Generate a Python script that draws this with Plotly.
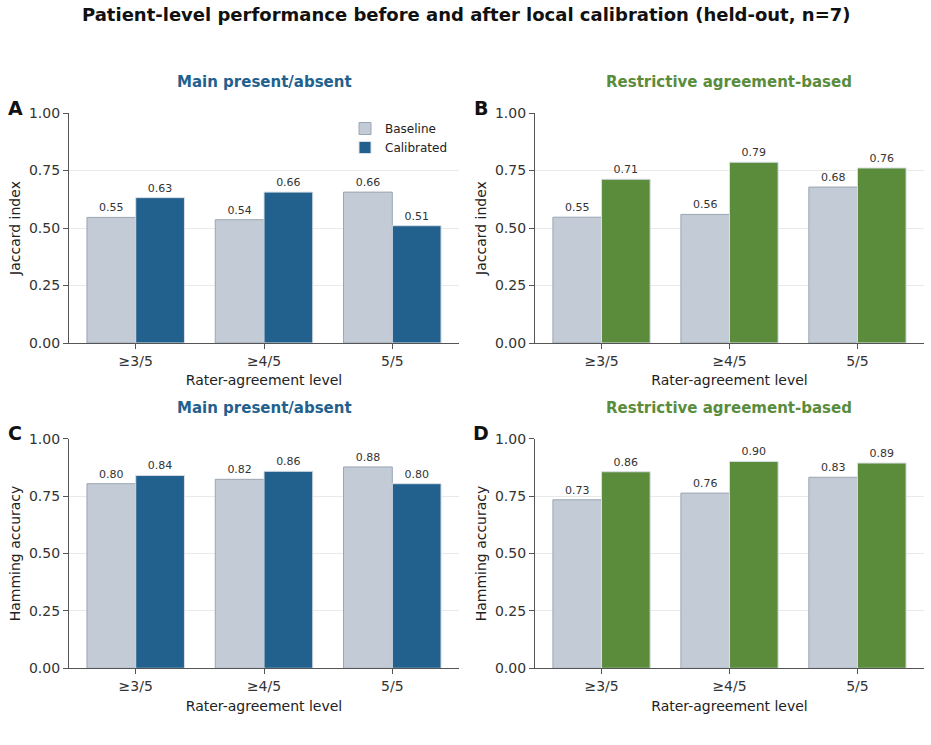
import plotly.graph_objects as go

levels = ["≥3/5", "≥4/5", "5/5"]

jaccard_main_baseline = [0.546, 0.536, 0.656]
jaccard_main_calibrated = [0.632, 0.656, 0.510]
jaccard_restr_baseline = [0.547, 0.559, 0.678]
jaccard_restr_calibrated = [0.712, 0.786, 0.761]
hamming_main_baseline = [0.804, 0.823, 0.877]
hamming_main_calibrated = [0.840, 0.858, 0.804]
hamming_restr_baseline = [0.734, 0.763, 0.832]
hamming_restr_calibrated = [0.856, 0.901, 0.894]

y_ticks = [0.0, 0.25, 0.5, 0.75, 1.0]

BASE_FILL = "#c3ccd6"
BASE_EDGE = "#9aa6b3"
BLUE = "#22618e"
GREEN = "#5a8c3c"
FONT = "DejaVu Sans"

W, H = 931, 745
def px(x): return x / W
def py(y): return 1 - y / H

fig = go.Figure()

panels = [
    ("", jaccard_main_baseline, jaccard_main_calibrated, BLUE, "Jaccard index", (69, 459), (113, 343)),
    ("2", jaccard_restr_baseline, jaccard_restr_calibrated, GREEN, "Jaccard index", (535, 924), (113, 343)),
    ("3", hamming_main_baseline, hamming_main_calibrated, BLUE, "Hamming accuracy", (69, 459), (438.7, 668.3)),
    ("4", hamming_restr_baseline, hamming_restr_calibrated, GREEN, "Hamming accuracy", (535, 924), (438.7, 668.3)),
]

layout_axes = {}
for i, (aid, base, cal, color, ytitle, dx, dy) in enumerate(panels):
    xa = "x" + aid
    ya = "y" + aid
    fig.add_trace(go.Bar(
        x=levels, y=base, name="Baseline", xaxis=xa, yaxis=ya,
        marker=dict(color=BASE_FILL, line=dict(color=BASE_EDGE, width=1)),
        text=[f"{v:.2f}" for v in base], textposition="outside",
        textfont=dict(size=11, color="#333333", family=FONT),
        cliponaxis=False, showlegend=(i == 0), legendgroup="b",
    ))
    fig.add_trace(go.Bar(
        x=levels, y=cal, name="Calibrated", xaxis=xa, yaxis=ya,
        marker=dict(color=color, line=dict(color="#d8dee6", width=1)),
        text=[f"{v:.2f}" for v in cal], textposition="outside",
        textfont=dict(size=11, color="#333333", family=FONT),
        cliponaxis=False, showlegend=(i == 0), legendgroup="c",
    ))
    layout_axes["xaxis" + aid] = dict(
        domain=[px(dx[0]), px(dx[1])], anchor=ya, range=[-0.52, 2.52],
        automargin=False,
        showline=True, linecolor="#555555", linewidth=1.2, ticks="outside",
        ticklen=5, tickcolor="#555555", showgrid=False,
        tickfont=dict(size=14, color="#333333", family=FONT),
        title=dict(text="Rater-agreement level", font=dict(size=14, color="#222222", family=FONT), standoff=7),
    )
    layout_axes["yaxis" + aid] = dict(
        domain=[py(dy[1]), py(dy[0])], anchor=xa, range=[0, 1],
        automargin=False,
        tickvals=y_ticks, tickformat=".2f",
        showline=True, linecolor="#555555", linewidth=1.2, ticks="outside",
        ticklen=5, tickcolor="#555555", showgrid=True, gridcolor="#e9e9e9",
        zeroline=False,
        tickfont=dict(size=14, color="#333333", family=FONT),
        title=dict(text=ytitle, font=dict(size=14, color="#222222", family=FONT), standoff=5),
    )

annotations = [
    dict(text="<b>Patient-level performance before and after local calibration (held-out, n=7)</b>",
         x=0.5, y=py(15), xref="paper", yref="paper", showarrow=False,
         font=dict(size=18, color="#111111", family=FONT), xanchor="center", yanchor="middle"),
    dict(text="<b>Main present/absent</b>", x=px(264), y=py(82), xref="paper", yref="paper",
         showarrow=False, font=dict(size=15, color=BLUE, family=FONT), xanchor="center", yanchor="middle"),
    dict(text="<b>Restrictive agreement-based</b>", x=px(729), y=py(82), xref="paper", yref="paper",
         showarrow=False, font=dict(size=15, color=GREEN, family=FONT), xanchor="center", yanchor="middle"),
    dict(text="<b>Main present/absent</b>", x=px(264), y=py(408), xref="paper", yref="paper",
         showarrow=False, font=dict(size=15, color=BLUE, family=FONT), xanchor="center", yanchor="middle"),
    dict(text="<b>Restrictive agreement-based</b>", x=px(729), y=py(408), xref="paper", yref="paper",
         showarrow=False, font=dict(size=15, color=GREEN, family=FONT), xanchor="center", yanchor="middle"),
]
for letter, lx, ly in [("A", 15, 108), ("B", 481, 108), ("C", 15, 433), ("D", 481, 433)]:
    annotations.append(dict(text=f"<b>{letter}</b>", x=px(lx), y=py(ly), xref="paper", yref="paper",
                            showarrow=False, font=dict(size=19, color="#111111", family=FONT),
                            xanchor="center", yanchor="middle"))

fig.update_layout(
    width=W, height=H,
    margin=dict(l=0, r=0, t=0, b=0, autoexpand=False),
    paper_bgcolor="white", plot_bgcolor="white",
    barmode="group", bargap=0.24, bargroupgap=0,
    font=dict(family=FONT, color="#333333"),
    legend=dict(x=px(345), y=py(114), xanchor="left", yanchor="top",
                bgcolor="rgba(255,255,255,0)", font=dict(size=12, color="#222222", family=FONT),
                tracegroupgap=0, itemwidth=30),
    annotations=annotations,
    **layout_axes,
)

fig.write_html("out.html")
